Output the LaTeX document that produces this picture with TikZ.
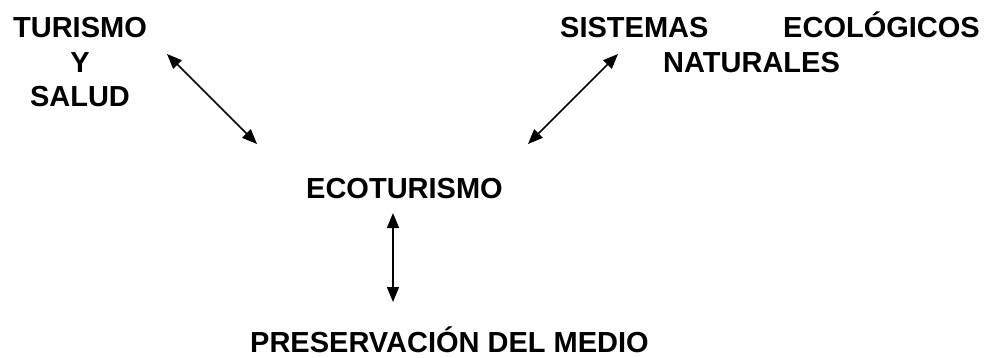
\documentclass[tikz,border=0pt]{standalone}
\usepackage{fontspec}
\setmainfont{Liberation Sans}
\usetikzlibrary{arrows.meta}
\begin{document}
\begin{tikzpicture}[x=1pt,y=1pt,
  lbl/.style={inner sep=0pt,font=\bfseries\fontsize{29}{34}\selectfont},
  biarrow/.style={{Triangle[length=15pt,width=12pt]}-{Triangle[length=15pt,width=12pt]},line width=1.5pt}]
\useasboundingbox (0,0) rectangle (988,-357);
% left group
\node[lbl,anchor=base] (tur) at (80,-37) {TURISMO};
\node[lbl,anchor=base] (y) at (80,-72) {Y};
\node[lbl,anchor=base] (sal) at (80,-106) {SALUD};
% right group
\node[lbl,anchor=base west] (sis) at (560,-37) {SISTEMAS};
\node[lbl,anchor=base east] (eco) at (980,-37) {ECOLÓGICOS};
\node[lbl,anchor=base west] (nat) at (663,-72) {NATURALES};
% center
\node[lbl,anchor=base west] (ecot) at (306,-198) {ECOTURISMO};
% bottom
\node[lbl,anchor=base west] (pres) at (250,-352) {PRESERVACIÓN DEL MEDIO};
% arrow ends
\coordinate (l1) at (167,-54);
\coordinate (l2) at (257,-144);
\coordinate (r1) at (618,-54);
\coordinate (r2) at (528,-144);
\coordinate (v1) at (393,-213);
\coordinate (v2) at (393,-302);
\draw[biarrow] (l1) -- (l2);
\draw[biarrow] (r1) -- (r2);
\draw[biarrow] (v1) -- (v2);
\end{tikzpicture}
\end{document}
